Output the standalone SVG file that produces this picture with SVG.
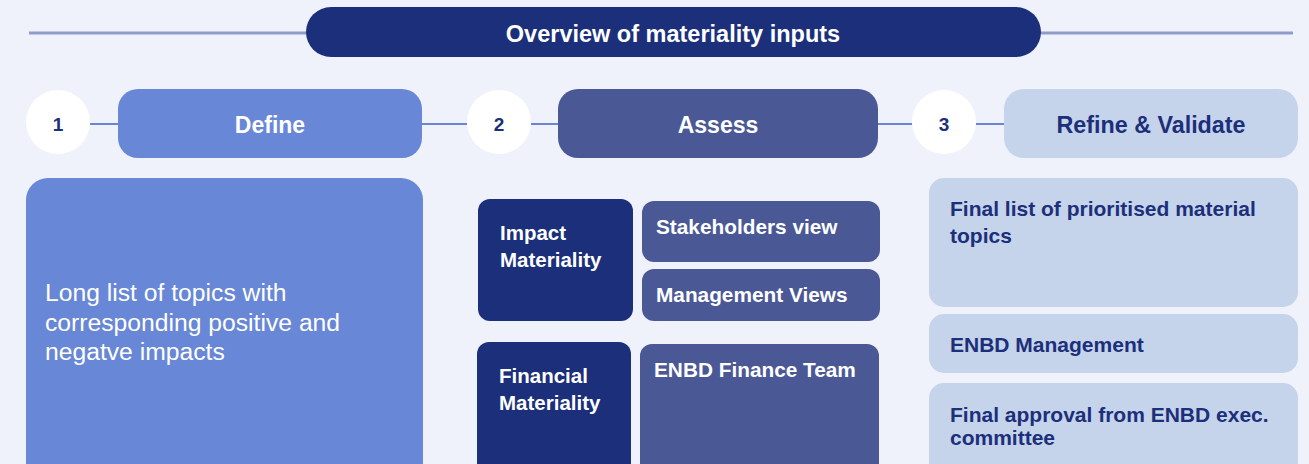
<svg xmlns="http://www.w3.org/2000/svg" width="1309" height="464" viewBox="0 0 1309 464">
<style>
.b{font-family:"Liberation Sans",Arial,sans-serif;font-weight:bold}
.r{font-family:"Liberation Sans",Arial,sans-serif}
.w{fill:#ffffff}
.d{fill:#1b2f7a}
.con{stroke:#6a86d3;stroke-width:2;fill:none}
</style>
<rect x="0" y="0" width="1309" height="464" fill="#eff2fb"/>
<g id="connectors">
<line x1="29" y1="33" x2="310" y2="33" stroke="#8f9bc9" stroke-width="3"/>
<line x1="1035" y1="33" x2="1293" y2="33" stroke="#8f9bc9" stroke-width="3"/>
<line class="con" x1="90" y1="124" x2="118" y2="124"/>
<line class="con" x1="422" y1="124" x2="467" y2="124"/>
<line class="con" x1="531" y1="124" x2="558" y2="124"/>
<line class="con" x1="878" y1="124" x2="912" y2="124"/>
<line class="con" x1="976" y1="124" x2="1004" y2="124"/>
</g>
<g id="title">
<rect x="306" y="7" width="735" height="50" rx="25" fill="#1b2f7a"/>
<text class="b w" x="673" y="42" font-size="23.5" text-anchor="middle">Overview of materiality inputs</text>
</g>
<g id="step1">
<circle cx="58" cy="122" r="32" fill="#ffffff"/>
<text class="b d" x="58" y="131" font-size="19" text-anchor="middle">1</text>
</g>
<g id="define">
<rect x="118" y="89" width="304" height="69" rx="20" fill="#6887d6"/>
<text class="b w" x="270" y="133" font-size="23" text-anchor="middle">Define</text>
</g>
<g id="step2">
<circle cx="499" cy="122" r="32" fill="#ffffff"/>
<text class="b d" x="499" y="131" font-size="19" text-anchor="middle">2</text>
</g>
<g id="assess">
<rect x="558" y="89" width="320" height="69" rx="20" fill="#4a5896"/>
<text class="b w" x="718" y="133" font-size="23" text-anchor="middle">Assess</text>
</g>
<g id="step3">
<circle cx="944" cy="122" r="32" fill="#ffffff"/>
<text class="b d" x="944" y="131" font-size="19" text-anchor="middle">3</text>
</g>
<g id="refine">
<rect x="1004" y="89" width="294" height="69" rx="20" fill="#c5d3eb"/>
<text class="b d" x="1151" y="133" font-size="23.3" text-anchor="middle">Refine &amp; Validate</text>
</g>
<g id="longlist">
<rect x="26" y="178" width="397" height="310" rx="22" fill="#6887d6"/>
<text class="r w" font-size="24.7"><tspan x="45" y="301">Long list of topics with</tspan><tspan x="45" y="331">corresponding positive and</tspan><tspan x="45" y="360">negatve impacts</tspan></text>
</g>
<g id="impact">
<rect x="478" y="199" width="155" height="122" rx="12" fill="#1b2f7a"/>
<text class="b w" font-size="20.5"><tspan x="500" y="240">Impact</tspan><tspan x="500" y="267">Materiality</tspan></text>
</g>
<g id="stakeholders">
<rect x="642" y="201" width="238" height="61" rx="12" fill="#4a5896"/>
<text class="b w" x="656" y="234" font-size="20.8">Stakeholders view</text>
</g>
<g id="management">
<rect x="642" y="269" width="238" height="52" rx="12" fill="#4a5896"/>
<text class="b w" x="656" y="302" font-size="20.8">Management Views</text>
</g>
<g id="financial">
<rect x="477" y="342" width="154" height="140" rx="12" fill="#1b2f7a"/>
<text class="b w" font-size="20.5"><tspan x="499" y="383">Financial</tspan><tspan x="499" y="410">Materiality</tspan></text>
</g>
<g id="finance-team">
<rect x="640" y="344" width="239" height="140" rx="12" fill="#4a5896"/>
<text class="b w" x="654" y="377" font-size="20.8">ENBD Finance Team</text>
</g>
<g id="final-list">
<rect x="929" y="178" width="369" height="129" rx="15" fill="#c5d3eb"/>
<text class="b d" font-size="21"><tspan x="950" y="216">Final list of prioritised material</tspan><tspan x="950" y="243">topics</tspan></text>
</g>
<g id="enbd-management">
<rect x="929" y="314" width="369" height="59" rx="15" fill="#c5d3eb"/>
<text class="b d" x="950" y="352" font-size="21">ENBD Management</text>
</g>
<g id="final-approval">
<rect x="929" y="383" width="369" height="100" rx="15" fill="#c5d3eb"/>
<text class="b d" font-size="21"><tspan x="950" y="422">Final approval from ENBD exec.</tspan><tspan x="950" y="445">committee</tspan></text>
</g>
</svg>
